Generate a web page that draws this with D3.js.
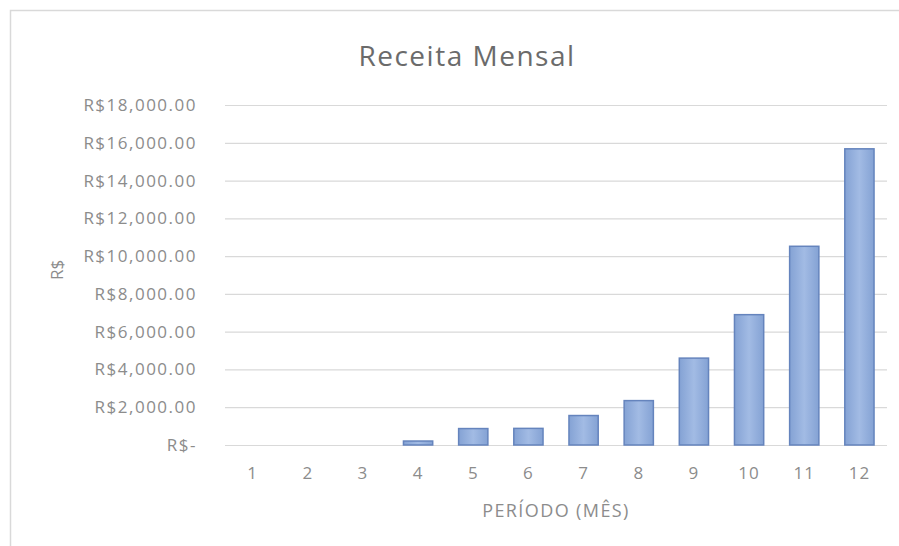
<!DOCTYPE html>
<html>
<head>
<meta charset="utf-8">
<script src="https://cdn.jsdelivr.net/npm/d3@7"></script>
<style>
  html, body { margin: 0; padding: 0; background: #fff; }
  svg { display: block; }
</style>
</head>
<body>
<svg id="chart" width="899" height="546"></svg>
<script>
const categories = ["1","2","3","4","5","6","7","8","9","10","11","12"];
const values = [0, 0, 0, 210, 870, 880, 1560, 2350, 4600, 6900, 10520, 15680];
const yTicks = [0, 2000, 4000, 6000, 8000, 10000, 12000, 14000, 16000, 18000];
const titleText = "Receita Mensal";
const xTitle = "PERÍODO (MÊS)";
const yTitle = "R$";

const svg = d3.select("#chart");
const W = 899, H = 546;
const margin = { left: 225, right: 12, top: 105, bottom: 101 };
const x = d3.scaleBand().domain(categories).range([margin.left, W - margin.right]).paddingInner(0.47).paddingOuter(0.235);
const y = d3.scaleLinear().domain([0, 18000]).range([H - margin.bottom, margin.top]);

const fmt = v => v === 0 ? "R$-" : "R$" + d3.format(",.2f")(v);

// frame
svg.append("rect").attr("x", 10.5).attr("y", 10.5).attr("width", 1000).attr("height", 1000)
  .attr("fill", "#fff").attr("stroke", "#d9d9d9").attr("stroke-width", 1.5);

const defs = svg.append("defs");
const grad = defs.append("linearGradient").attr("id", "barGrad").attr("x1", "0%").attr("x2", "100%").attr("y1", "0%").attr("y2", "0%");
grad.append("stop").attr("offset", "0%").attr("stop-color", "#84a2d4");
grad.append("stop").attr("offset", "50%").attr("stop-color", "#a2bbe4");
grad.append("stop").attr("offset", "100%").attr("stop-color", "#84a2d4");

// gridlines via axis
const yAxis = d3.axisLeft(y).tickValues(yTicks).tickSize(-(W - margin.left - margin.right)).tickFormat(fmt).tickPadding(28);
const gy = svg.append("g").attr("transform", `translate(${margin.left},0)`).call(yAxis);
gy.select(".domain").remove();
gy.selectAll(".tick line").attr("stroke", "#d9d9d9").attr("stroke-width", 1.2);
gy.selectAll(".tick text").attr("fill", "#8c8c8c").attr("font-family", "'Open Sans', sans-serif")
  .attr("font-size", 17).attr("letter-spacing", "1.5px");

// bars
svg.append("g").selectAll("rect").data(values).join("rect")
  .attr("x", (d, i) => x(categories[i]))
  .attr("width", x.bandwidth())
  .attr("y", d => y(d))
  .attr("height", d => y(0) - y(d))
  .attr("fill", "url(#barGrad)")
  .attr("stroke", d => d > 0 ? "#6584bd" : "none")
  .attr("stroke-width", 1.5);

// x axis
const xAxis = d3.axisBottom(x).tickSize(0).tickPadding(22);
const gx = svg.append("g").attr("transform", `translate(0,${y(0)})`).call(xAxis);
gx.select(".domain").remove();
gx.selectAll(".tick text").attr("fill", "#8c8c8c").attr("font-family", "'Open Sans', sans-serif")
  .attr("font-size", 17).attr("letter-spacing", "1px");

// titles
svg.append("text").attr("x", 467).attr("y", 66).attr("text-anchor", "middle")
  .attr("font-family", "'Open Sans', sans-serif").attr("font-size", 28).attr("fill", "#6b6b6b")
  .attr("letter-spacing", "1.5px")
  .text(titleText);

svg.append("text").attr("x", (margin.left + W - margin.right) / 2).attr("y", 517).attr("text-anchor", "middle")
  .attr("font-family", "'Open Sans', sans-serif").attr("font-size", 18).attr("fill", "#8c8c8c")
  .attr("letter-spacing", "1.4px")
  .text(xTitle);

svg.append("text").attr("transform", "translate(63,270) rotate(-90)").attr("text-anchor", "middle")
  .attr("font-family", "'Open Sans', sans-serif").attr("font-size", 17).attr("fill", "#8c8c8c")
  .text(yTitle);
</script>
</body>
</html>
